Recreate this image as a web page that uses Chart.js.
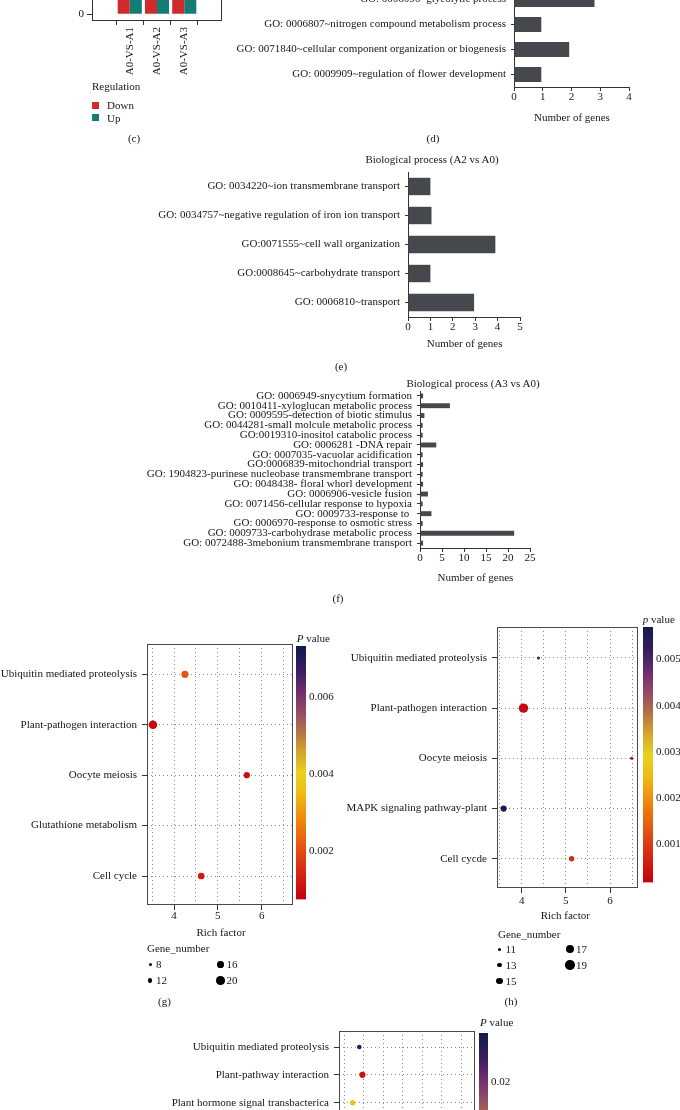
<!DOCTYPE html>
<html>
<head>
<meta charset="utf-8">
<script src="https://cdn.jsdelivr.net/npm/chart.js@4.4.1/dist/chart.umd.min.js"></script>
<style>
html, body { margin: 0; padding: 0; background: #fff; overflow: hidden; }
#page { position: relative; width: 680px; height: 1110px; overflow: hidden; font-family: "Liberation Serif", serif; font-size: 11px; color: #161616; }
canvas { position: absolute; }
.t { position: absolute; white-space: nowrap; line-height: 1; }
.dot { position: absolute; border-radius: 50%; background: #000; }
.sq { position: absolute; width: 7px; height: 7px; }
</style>
</head>
<body>
<div id="page"></div>
<script>
// (c) number of DEGs
const cGroups = ["A0-VS-A1", "A0-VS-A2", "A0-VS-A3"];
const cDown = [2156, 1843, 2571];
const cUp = [1982, 2237, 2089];
const cTicks = [0, 500, 1000, 1500, 2000, 2500, 3000];

// (d) GO terms
const dTerms = ["GO: 0006096~glycolytic process", "GO: 0006807~nitrogen compound metabolism process", "GO: 0071840~cellular component organization or biogenesis", "GO: 0009909~regulation of flower development"];
const dGenes = [2.8, 0.95, 1.92, 0.95];

// (e) Biological process (A2 vs A0)
const eTerms = ["GO: 0034220~ion transmembrane transport", "GO: 0034757~negative regulation of iron ion transport", "GO:0071555~cell wall organization", "GO:0008645~carbohydrate transport", "GO: 0006810~transport"];
const eGenes = [1.0, 1.05, 3.9, 1.0, 2.95];

// (f) Biological process (A3 vs A0)
const fTerms = ["GO: 0006949-snycytium formation", "GO: 0010411-xyloglucan metabolic process", "GO: 0009595-detection of biotic stimulus", "GO: 0044281-small molcule metabolic process", "GO:0019310-inositol catabolic process", "GO: 0006281 -DNA repair", "GO: 0007035-vacuolar acidification", "GO:0006839-mitochondrial transport", "GO: 1904823-purinese nucleobase transmembrane transport", "GO: 0048438- floral whorl development", "GO: 0006906-vesicle fusion", "GO: 0071456-cellular response to hypoxia", "GO: 0009733-response to ", "GO: 0006970-response to osmotic stress", "GO: 0009733-carbohydrase metabolic process", "GO: 0072488-3mebonium transmembrane transport"];
const fGenes = [0.7, 6.8, 1.0, 0.6, 0.6, 3.7, 0.6, 0.7, 0.6, 0.7, 1.8, 0.6, 2.6, 0.6, 21.4, 0.7];

// (g) KEGG A1 vs A0
const gPaths = ["Ubiquitin mediated proteolysis", "Plant-pathogen interaction", "Oocyte meiosis", "Glutathione metabolism", "Cell cycle"];
const gRich = [4.25, 3.52, 5.66, null, 4.62];
const gCount = [17, 20, 15, null, 16];
const gP = [0.0021, 0.0009, 0.001, null, 0.0012];
const gPTicks = [0.002, 0.004, 0.006];
const gSizes = [8, 12, 16, 20];

// (h) KEGG A2 vs A0
const hPaths = ["Ubiquitin mediated proteolysis", "Plant-pathogen interaction", "Oocyte meiosis", "MAPK signaling pathway-plant", "Cell cycde"];
const hRich = [4.38, 4.04, 6.49, 3.59, 5.13];
const hCount = [11, 19, 11, 15, 14];
const hP = [0.0052, 0.0003, 0.0004, 0.0056, 0.0008];
const hPTicks = [0.001, 0.002, 0.003, 0.004, 0.005];
const hSizes = [11, 13, 15, 17, 19];

// (i) KEGG A3 vs A0
const iPaths = ["Ubiquitin mediated proteolysis", "Plant-pathway interaction", "Plant hormone signal transbacterica"];
const iRich = [3.39, 3.47, 3.22];
const iCount = [10, 12, 11];
const iP = [0.0233, 0.002, 0.0116];
const iPTicks = [0.01, 0.02];

const richTicks = [3.5, 4, 4.5, 5, 5.5, 6, 6.5];
const richTicksI = [3, 3.5, 4, 4.5, 5, 5.5, 6];

const pStops = [[0, '#c4000f'], [0.15, '#dc3a16'], [0.3, '#ee800c'], [0.42, '#f0bc12'], [0.5, '#e6d21e'], [0.58, '#d6a42c'], [0.66, '#b47444'], [0.73, '#985064'], [0.81, '#76306e'], [0.9, '#3a1e60'], [1, '#121a4c']];

Chart.defaults.font.family = "'Liberation Serif', serif";
Chart.defaults.font.size = 11;
Chart.defaults.color = '#161616';
Chart.defaults.animation = false;
Chart.defaults.plugins.legend.display = false;
Chart.defaults.plugins.tooltip.enabled = false;

const page = document.getElementById('page');
const AX = '#333';
const BAR = '#45484c';
const DOTS = '#8a8a8a';

function place(a, m) {
  const c = document.createElement('canvas');
  const w = a.r - a.l + m.L + m.R, h = a.b - a.t + m.T + m.B;
  c.width = w; c.height = h;
  Object.assign(c.style, { left: (a.l - m.L) + 'px', top: (a.t - m.T) + 'px', width: w + 'px', height: h + 'px' });
  page.appendChild(c);
  return c;
}
const fixW = w => s => { s.width = w; };
const fixH = h => s => { s.height = h; };
const setTicks = list => s => { s.ticks = list.map(v => ({ value: v })); };

function text(str, x, y, align, html) {
  const d = document.createElement('div');
  d.className = 't';
  if (html) d.innerHTML = str; else d.textContent = str;
  d.style.left = x + 'px';
  d.style.top = y + 'px';
  const tx = align === 'left' ? '0' : align === 'right' ? '-100%' : '-50%';
  d.style.transform = 'translate(' + tx + ',-50%)';
  page.appendChild(d);
}
function dot(x, y, r) {
  const d = document.createElement('div');
  d.className = 'dot';
  Object.assign(d.style, { left: (x - r) + 'px', top: (y - r) + 'px', width: 2 * r + 'px', height: 2 * r + 'px' });
  page.appendChild(d);
}

function hex(c) { return [1, 3, 5].map(k => parseInt(c.slice(k, k + 2), 16)); }
function pColor(p, lo, hi) {
  const f = Math.min(1, Math.max(0, (p - lo) / (hi - lo)));
  for (let k = 1; k < pStops.length; k++) {
    if (f <= pStops[k][0]) {
      const [f0, c0] = pStops[k - 1], [f1, c1] = pStops[k];
      const t = (f - f0) / (f1 - f0), a = hex(c0), b = hex(c1);
      return 'rgb(' + a.map((v, j) => Math.round(v + (b[j] - v) * t)).join(',') + ')';
    }
  }
  return pStops[pStops.length - 1][1];
}

// box round the plot area, like ggplot's panel border
const frame = {
  id: 'frame',
  beforeDatasetsDraw(chart, args, o) {
    if (!o.color) return;
    const { ctx, chartArea: a } = chart;
    ctx.save();
    ctx.strokeStyle = o.color;
    ctx.lineWidth = 1;
    ctx.strokeRect(a.left + 0.5, a.top + 0.5, a.right - a.left - 1, a.bottom - a.top - 1);
    ctx.restore();
  }
};

// ---- (c)
const cA = { l: 92, t: -436, r: 222, b: 21 }, cM = { L: 40, T: 15, R: 10, B: 70 };
new Chart(place(cA, cM), {
  type: 'bar',
  data: {
    datasets: [
      { label: 'Down', data: cDown.map((v, i) => ({ x: i, y: v })), backgroundColor: '#cf2b2b' },
      { label: 'Up', data: cUp.map((v, i) => ({ x: i, y: v })), backgroundColor: '#137c77' }
    ]
  },
  options: {
    responsive: false, events: [],
    layout: { padding: { left: 0, top: cM.T, right: cM.R, bottom: 0 } },
    datasets: { bar: { categoryPercentage: 0.885, barPercentage: 1 } },
    plugins: { frame: { color: AX } },
    scales: {
      x: {
        type: 'linear', min: -0.59, max: 2.59, afterBuildTicks: setTicks([0, 1, 2]),
        ticks: { callback: v => cGroups[v], minRotation: 90, maxRotation: 90, padding: 2, autoSkip: false },
        grid: { drawOnChartArea: false, tickLength: 4, tickColor: AX }, border: { display: false },
        afterFit: fixH(cM.B)
      },
      y: {
        min: -45, max: 3000, afterBuildTicks: setTicks(cTicks), ticks: { padding: 3 },
        grid: { drawOnChartArea: false, tickLength: 5, tickColor: AX }, border: { display: false },
        afterFit: fixW(cM.L)
      }
    }
  },
  plugins: [frame]
});
text('Regulation', 92, 86, 'left');
[['#cf2b2b', 'Down', 105], ['#137c77', 'Up', 117.5]].forEach(([col, name, y]) => {
  const s = document.createElement('div');
  s.className = 'sq';
  Object.assign(s.style, { left: '92px', top: (y - 3.5) + 'px', background: col });
  page.appendChild(s);
  text(name, 107, y, 'left');
});
text('(c)', 134, 138);

// ---- horizontal GO bar charts
function goBars(a, m, terms, genes, xMax, step, barPct) {
  new Chart(place(a, m), {
    type: 'bar',
    data: { labels: terms, datasets: [{ data: genes, backgroundColor: BAR, barPercentage: barPct, categoryPercentage: 1 }] },
    options: {
      responsive: false, events: [], indexAxis: 'y',
      layout: { padding: { left: 0, top: m.T, right: m.R, bottom: 0 } },
      scales: {
        x: {
          type: 'linear', min: 0, max: xMax, ticks: { stepSize: step, padding: 0 },
          grid: { drawOnChartArea: false, tickLength: 4, tickColor: AX }, border: { color: AX, width: 1 },
          afterFit: fixH(m.B)
        },
        y: {
          ticks: { padding: 5, autoSkip: false },
          grid: { drawOnChartArea: false, offset: false, tickLength: 3, tickColor: AX }, border: { color: AX, width: 1 },
          afterFit: fixW(m.L)
        }
      }
    }
  });
}
goBars({ l: 514, t: -13, r: 629, b: 87 }, { L: 300, T: 15, R: 15, B: 40 }, dTerms, dGenes, 4, 1, 0.6);
text('Number of genes', 572, 116.7);
text('(d)', 433, 138);

text('Biological process (A2 vs A0)', 432, 159);
goBars({ l: 408, t: 172, r: 520, b: 317 }, { L: 280, T: 15, R: 15, B: 40 }, eTerms, eGenes, 5, 1, 0.6);
text('Number of genes', 464.6, 342.7);
text('(e)', 341, 366);

text('Biological process (A3 vs A0)', 473, 383.3);
goBars({ l: 420, t: 391, r: 530, b: 548 }, { L: 330, T: 15, R: 15, B: 40 }, fTerms, fGenes, 25, 5, 0.5);
text('Number of genes', 475.5, 576.7);
text('(f)', 338, 598);

// ---- KEGG bubble charts
function bubbles(a, m, paths, rich, count, pv, lo, hi, size, xr, xt, yr, xPad) {
  const pts = [], cols = [];
  paths.forEach((p, i) => {
    if (rich[i] == null) return;
    pts.push({ x: rich[i], y: i, r: size(count[i]) });
    cols.push(pColor(pv[i], lo, hi));
  });
  new Chart(place(a, m), {
    type: 'bubble',
    data: { datasets: [{ data: pts, backgroundColor: cols, borderWidth: 0 }] },
    options: {
      responsive: false, events: [],
      layout: { padding: { left: 0, top: m.T, right: m.R, bottom: 0 } },
      plugins: { frame: { color: '#4a4a4a' } },
      scales: {
        x: {
          type: 'linear', min: xr[0], max: xr[1], afterBuildTicks: setTicks(xt),
          ticks: { callback: v => Number.isInteger(v) ? v : '', padding: xPad },
          grid: { color: DOTS, tickLength: 5, tickColor: c => Number.isInteger(c.tick && c.tick.value) ? AX : 'rgba(0,0,0,0)' },
          border: { display: false, dash: [1, 3] },
          afterFit: fixH(m.B)
        },
        y: {
          type: 'linear', reverse: true, min: yr[0], max: yr[1], afterBuildTicks: setTicks(paths.map((p, i) => i)),
          ticks: { callback: v => paths[v], padding: 5, autoSkip: false },
          grid: { color: DOTS, tickLength: 5, tickColor: AX },
          border: { display: false, dash: [1, 3] },
          afterFit: fixW(m.L)
        }
      }
    },
    plugins: [frame]
  });
}

function colorBar(a, m, lo, hi, ticks, digits) {
  new Chart(place(a, m), {
    type: 'bar',
    data: {
      labels: ['p'],
      datasets: [{
        data: [[lo, hi]], barPercentage: 1, categoryPercentage: 1, borderWidth: 0,
        backgroundColor: ctx => {
          const ar = ctx.chart.chartArea;
          if (!ar) return pStops[0][1];
          const g = ctx.chart.ctx.createLinearGradient(0, ar.bottom, 0, ar.top);
          pStops.forEach(([f, c]) => g.addColorStop(f, c));
          return g;
        }
      }]
    },
    options: {
      responsive: false, events: [],
      layout: { padding: { left: m.L, top: m.T, right: 0, bottom: m.B } },
      scales: {
        x: { display: false },
        y: {
          position: 'right', min: lo, max: hi, afterBuildTicks: setTicks(ticks),
          ticks: { callback: v => v.toFixed(digits), padding: 3 },
          grid: { display: false, drawTicks: false }, border: { display: false },
          afterFit: fixW(m.R)
        }
      }
    }
  });
}

const sizeG = n => 1.5 + (n - 8) / 12 * 2.8;
const sizeH = n => 1.5 + (n - 11) / 8 * 3.2;
const sizeI = n => 1.5 + (n - 8) * 0.4;

// (g)
bubbles({ l: 147, t: 644, r: 293, b: 905 }, { L: 150, T: 15, R: 10, B: 30 }, gPaths, gRich, gCount, gP, 0.00074, 0.00733, sizeG,
  [3.384, 6.714], richTicks, [-0.6, 4.575], 0);
colorBar({ l: 296, t: 646, r: 306, b: 904 }, { L: 5, T: 15, R: 45, B: 5 }, 0.00074, 0.00733, gPTicks, 3);
text('<i>P</i> value', 296.7, 638.3, 'left', true);
text('Rich factor', 221, 931.7);
text('Gene_number', 147, 947.7, 'left');
gSizes.forEach((n, k) => {
  const x = k < 2 ? 150 : 220.5, y = k % 2 ? 980.3 : 964.3;
  dot(x, y, sizeG(n));
  text(String(n), x + 6, y, 'left');
});
text('(g)', 164.5, 1001);

// (h)
bubbles({ l: 497, t: 627, r: 638, b: 888 }, { L: 150, T: 15, R: 10, B: 30 }, hPaths, hRich, hCount, hP, 0.00018, 0.0057, sizeH,
  [3.44, 6.634], richTicks, [-0.616, 4.582], 2);
colorBar({ l: 643, t: 627, r: 653, b: 887 }, { L: 5, T: 15, R: 45, B: 5 }, 0.00018, 0.0057, hPTicks, 3);
text('<i>p</i> value', 642.7, 619, 'left', true);
text('Rich factor', 565.3, 915);
text('Gene_number', 498, 934, 'left');
hSizes.forEach((n, k) => {
  const x = k < 3 ? 499.5 : 570, y = [949.3, 965, 980.7][k % 3];
  dot(x, y, sizeH(n));
  text(String(n), x + 6, y, 'left');
});
text('(h)', 511, 1001);

// (i)
bubbles({ l: 339, t: 1031, r: 475, b: 1119 }, { L: 200, T: 15, R: 10, B: 30 }, iPaths, iRich, iCount, iP, 0.001, 0.0245, sizeI,
  [2.872, 6.342], richTicksI, [-0.575, 2.585], 0);
colorBar({ l: 479, t: 1033, r: 488, b: 1292 }, { L: 5, T: 15, R: 45, B: 5 }, 0.001, 0.0245, iPTicks, 2);
text('<i>P</i> value', 480, 1022.3, 'left', true);
</script>
</body>
</html>
